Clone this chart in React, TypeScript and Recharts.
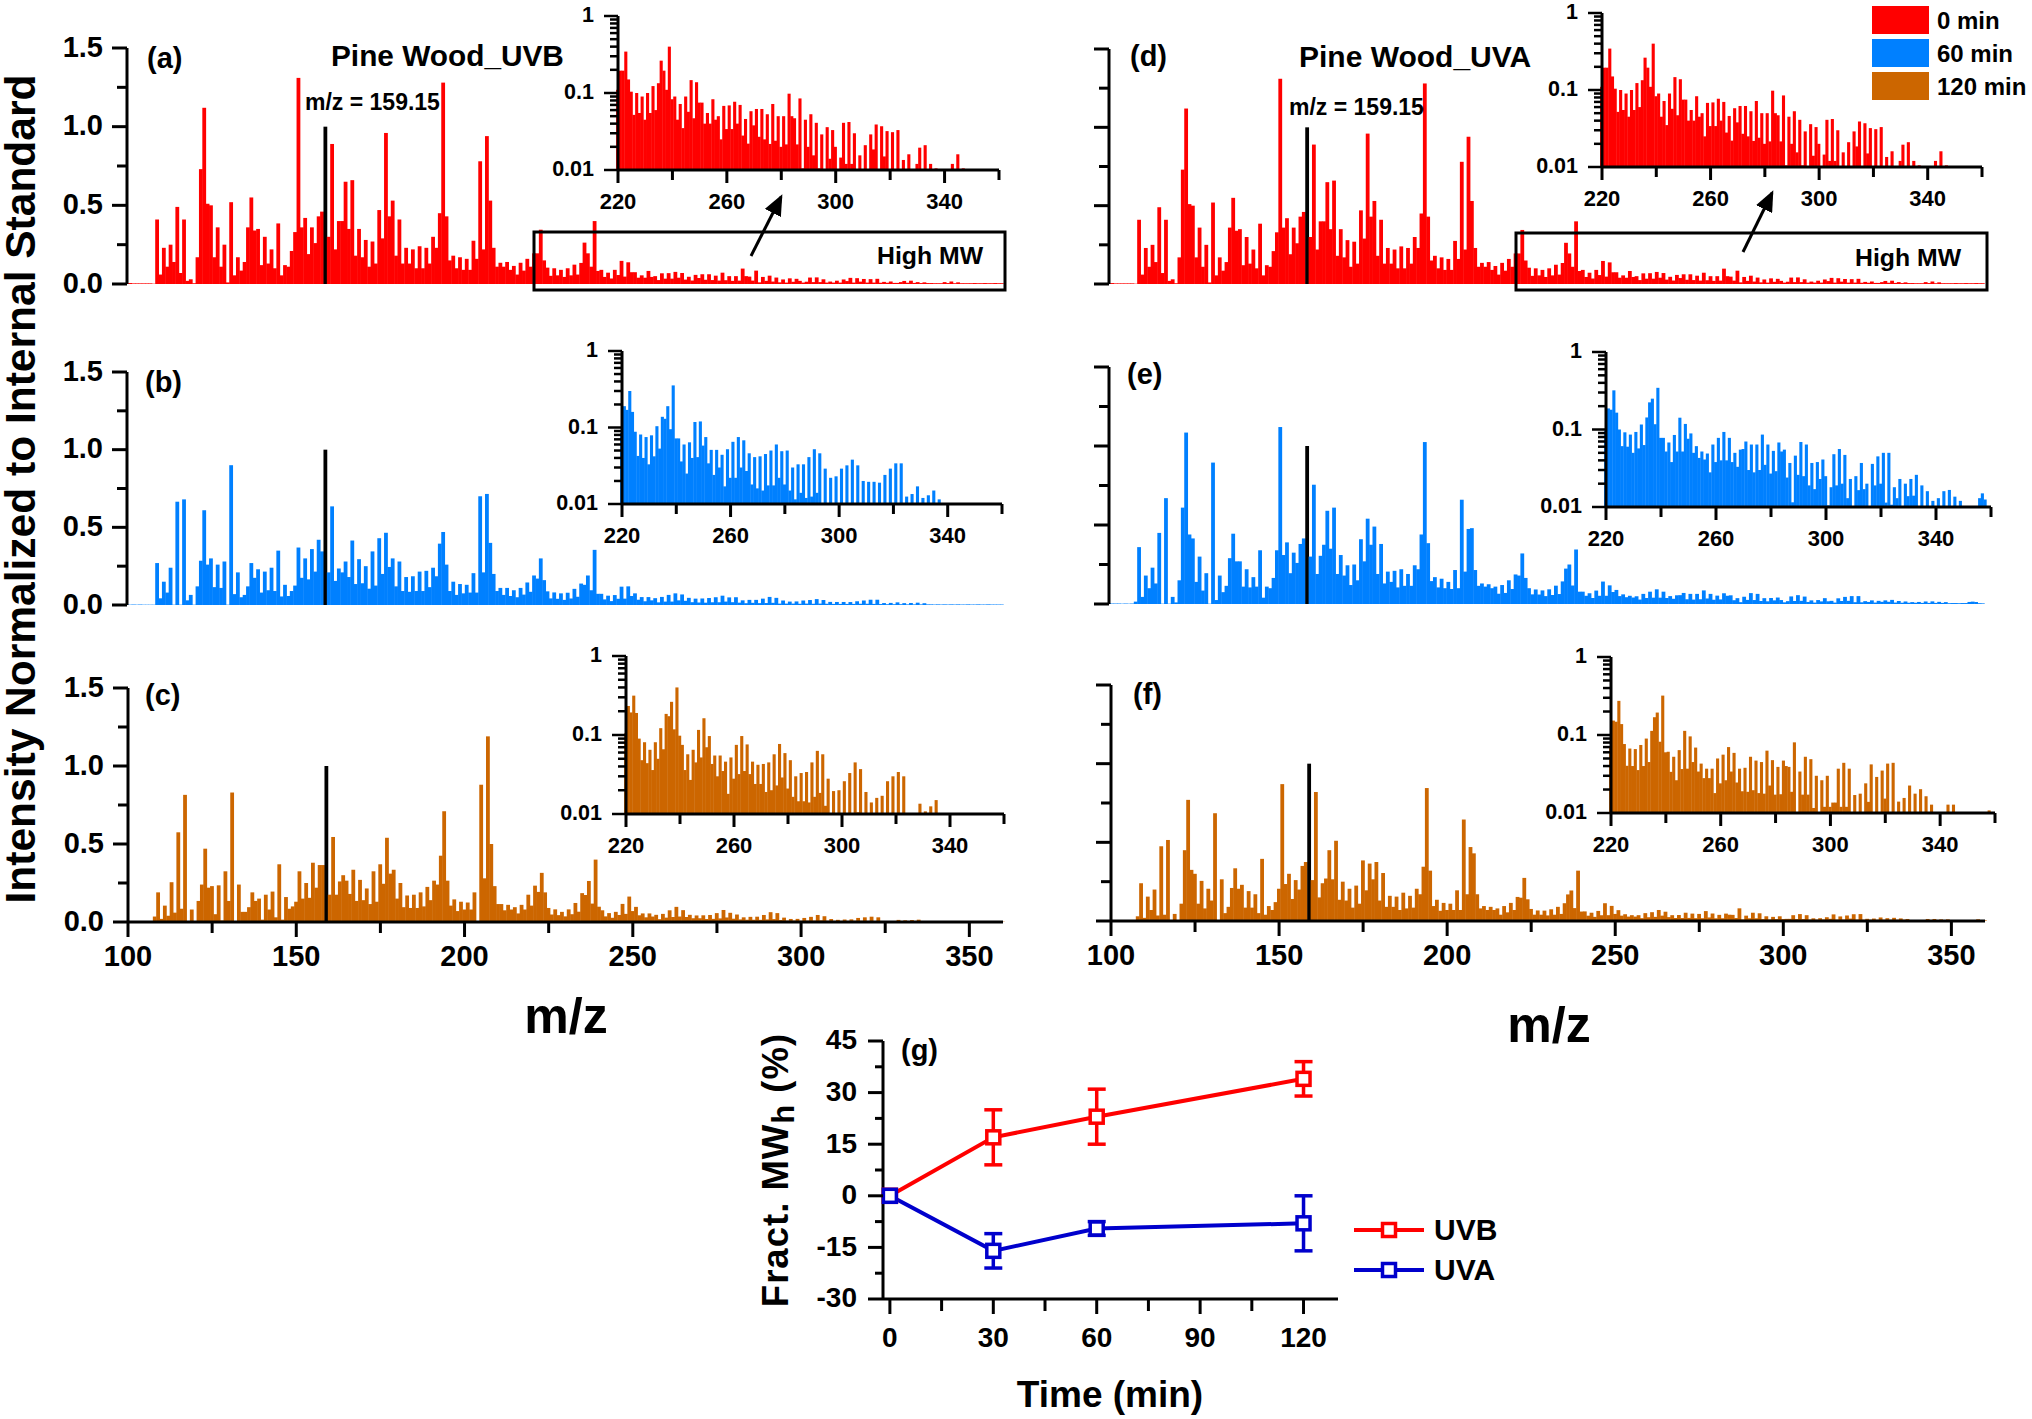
import { BarChart, Bar, XAxis, YAxis, LineChart, Line, ErrorBar } from 'recharts';

const FONT = '"Liberation Sans", Arial, sans-serif';
const RED = '#ff0000';
const BLUE = '#0080ff';
const BROWN = '#cc6600';
const UVA_BLUE = '#0000cc';

// intensity per unit m/z, ten values a line, starting at m/z 100 and running to 360
const zeroMin = [
  .004, .006, .004, .004, .004, .004, .004, .004, .002, .41,
  .06, .23, .11, .25, .14, .49, .07, .41, .02, .03,
  .005, .17, .73, 1.12, .51, .50, .17, .36, .11, .25,
  .01, .52, .055, .17, .085, .14, .36, .55, .34, .35,
  .12, .30, .13, .22, .10, .385, .055, .12, .11, .21,
  .33, 1.31, .36, .42, .19, .36, .26, .43, .46, 1.0,
  .30, .89, .22, .40, .40, .65, .35, .66, .18, .35,
  .17, .28, .11, .27, .13, .47, .29, .96, .43, .53,
  .18, .41, .13, .23, .13, .22, .10, .24, .10, .23,
  .13, .30, .23, .45, 1.28, .43, .15, .18, .10, .17,
  .09, .16, .09, .275, .16, .78, .22, .94, .53, .23,
  .11, .135, .11, .14, .09, .115, .06, .135, .085, .16,
  .11, .195, .195, .345, .15, .104, .052, .10, .055, .09,
  .045, .10, .055, .123, .06, .134, .263, .195, .11, .40,
  .083, .09, .045, .072, .035, .09, .057, .147, .047, .138,
  .075, .075, .04, .055, .04, .083, .045, .05, .025, .068,
  .034, .069, .034, .077, .04, .07, .028, .046, .022, .058,
  .038, .062, .027, .062, .025, .053, .0218, .072, .024, .05,
  .02, .05, .0215, .098, .05, .047, .0215, .085, .0105, .045,
  .02, .053, .0155, .041, .0105, .029, .009, .036, .014, .033,
  .02, .009, .0145, .041, .012, .042, .012, .03, .009, .0155,
  .009, .021, .009, .029, .0185, .039, .009, .037, .015, .032,
  .009, .031, .009, .033, .008, .0135, .008, .016, .007, .007,
  .012, .0195, .008, .021, .007, .012, .006, .0105, .006, .006,
  .005, .005, .005, .012, .006, .016, .005, .0105, .005, .005,
  .005, .005, .006, .005, .005, .006, .005, .005, .006, .005, .005,
];

const uvb60 = [
  .002, .002, .003, .002, .003, .002, .002, .002, .002, .27,
  .043, .15, .08, .24, .002, .665, .002, .68, .03, .065,
  .002, .12, .285, .61, .26, .30, .115, .26, .11, .28,
  .002, .90, .07, .21, .05, .065, .12, .27, .175, .23,
  .08, .215, .095, .24, .09, .35, .055, .13, .058, .09,
  .125, .37, .175, .30, .165, .36, .215, .42, .345, 1.0,
  .21, .635, .155, .235, .21, .28, .18, .415, .135, .295,
  .14, .25, .105, .345, .125, .43, .20, .465, .245, .30,
  .12, .28, .09, .18, .085, .185, .09, .215, .09, .22,
  .115, .24, .185, .395, .47, .26, .09, .15, .065, .135,
  .075, .13, .08, .205, .08, .70, .21, .715, .40, .20,
  .09, .11, .065, .11, .058, .095, .05, .11, .067, .145,
  .085, .19, .17, .30, .16, .088, .0425, .081, .04, .075,
  .033, .079, .042, .104, .053, .138, .13, .19, .095, .355,
  .072, .072, .036, .06, .025, .064, .04, .118, .041, .12,
  .058, .075, .034, .051, .024, .051, .03, .044, .017, .052,
  .022, .065, .022, .075, .03, .068, .027, .046, .018, .041,
  .016, .042, .015, .045, .0175, .05, .0175, .06, .022, .049,
  .018, .05, .015, .03, .0115, .033, .014, .033, .012, .041,
  .0125, .052, .014, .046, .009, .029, .009, .022, .009, .023,
  .008, .029, .009, .032, .008, .038, .009, .032, .008, .02,
  .007, .0195, .007, .0195, .007, .019, .007, .024, .008, .029,
  .008, .034, .007, .034, .006, .0125, .005, .0135, .005, .017,
  .005, .012, .004, .013, .004, .015, .004, .0115, .004, .004,
  .003, .004, .003, .004, .003, .004, .003, .004, .003, .003,
  .004, .003, .003, .004, .003, .003, .004, .003, .003, .003, .003,
];

const uvb120 = [
  0, 0, 0, 0, 0, 0, 0, 0, .035, .19,
  .02, .105, .04, .255, .06, .575, .085, .815, 0, .08,
  .005, .135, .24, .47, .22, .23, .05, .235, .01, .325,
  .135, .83, .005, .24, .065, .065, .095, .19, .135, .15,
  .015, .175, .08, .195, .03, .37, .015, .16, .085, .10,
  .13, .325, .15, .25, .155, .38, .22, .365, .365, 1.0,
  .175, .545, .175, .26, .30, .265, .18, .335, .135, .27,
  .14, .215, .115, .325, .13, .37, .245, .54, .31, .335,
  .15, .25, .095, .17, .09, .175, .09, .19, .10, .225,
  .14, .265, .24, .425, .71, .265, .105, .145, .07, .13,
  .08, .125, .08, .19, .002, .88, .28, 1.19, .50, .23,
  .115, .115, .075, .11, .08, .095, .055, .11, .08, .175,
  .105, .233, .193, .315, .19, .09, .048, .081, .044, .065,
  .036, .081, .05, .122, .066, .185, .173, .263, .118, .40,
  .098, .075, .036, .057, .027, .065, .045, .116, .052, .163,
  .07, .097, .043, .055, .03, .055, .035, .046, .018, .052,
  .028, .075, .032, .097, .035, .076, .032, .046, .024, .042,
  .024, .043, .019, .045, .02, .057, .023, .077, .029, .059,
  .021, .048, .0165, .03, .0145, .033, .0145, .034, .014, .045,
  .0165, .063, .0185, .057, .0127, .028, .009, .0195, .009, .02,
  .008, .026, .009, .033, .009, .045, .0105, .037, .008, .019,
  .007, .014, .007, .016, .007, .017, .008, .026, .008, .03,
  .007, .034, .006, .03, .005, .005, .004, .005, .004, .0135,
  .004, .0108, .004, .0125, .004, .015, .003, .003, .003, .003,
  .003, .003, .002, .003, .002, .003, .002, .003, .002, .002,
  .002, .002, .002, .002, .002, .002, .002, .002, .002, .002, .002,
];

const uva60 = [
  .006, .003, .003, .003, .002, .003, .002, .003, .015, .36,
  .045, .18, .10, .23, .13, .45, .002, .67, .002, .045,
  .01, .15, .61, 1.085, .44, .415, .14, .30, .085, .195,
  .002, .895, .025, .18, .075, .115, .29, .445, .27, .27,
  .11, .22, .105, .17, .11, .34, .04, .11, .10, .165,
  .34, 1.12, .31, .39, .195, .325, .26, .38, .415, 1.0,
  .30, .755, .19, .305, .375, .59, .35, .61, .19, .31,
  .18, .245, .12, .25, .15, .41, .27, .54, .375, .49,
  .19, .38, .13, .205, .14, .21, .105, .22, .115, .19,
  .115, .245, .22, .44, 1.025, .385, .145, .17, .105, .16,
  .10, .14, .095, .215, .10, .66, .205, .475, .48, .215,
  .115, .13, .11, .125, .10, .11, .065, .12, .07, .15,
  .095, .187, .18, .32, .165, .10, .061, .092, .06, .086,
  .05, .093, .057, .116, .063, .143, .224, .25, .117, .345,
  .078, .078, .052, .068, .038, .085, .052, .142, .052, .118,
  .076, .089, .05, .061, .043, .052, .041, .049, .028, .064,
  .038, .078, .04, .093, .04, .078, .038, .05, .033, .055,
  .056, .07, .03, .064, .028, .064, .03, .086, .035, .064,
  .027, .053, .029, .068, .052, .055, .024, .037, .0115, .046,
  .026, .069, .025, .064, .019, .037, .017, .038, .023, .041,
  .025, .0105, .018, .048, .019, .056, .02, .047, .013, .023,
  .009, .025, .0165, .037, .017, .02, .009, .036, .019, .045,
  .02, .05, .0114, .05, .0107, .018, .013, .023, .009, .02,
  .0138, .023, .014, .026, .009, .019, .008, .016, .008, .012,
  .008, .013, .007, .016, .007, .0166, .007, .0136, .007, .012,
  .005, .006, .006, .005, .006, .006, .013, .015, .0125, .005, .004,
];

const uva120 = [
  0, 0, 0, 0, 0, 0, 0, 0, .03, .24,
  .02, .155, .07, .20, .035, .475, .04, .515, 0, .045,
  0, .11, .45, .77, .325, .30, .11, .255, .08, .205,
  .13, .685, 0, .265, .05, .09, .21, .335, .205, .23,
  .085, .19, .085, .17, .05, .395, .04, .095, .07, .12,
  .205, .87, .235, .30, .14, .26, .20, .35, .375, 1.0,
  .26, .82, .15, .24, .27, .45, .265, .51, .135, .25,
  .13, .205, .085, .225, .11, .385, .195, .365, .265, .375,
  .13, .305, .09, .16, .09, .155, .07, .18, .08, .16,
  .085, .205, .17, .345, .845, .32, .095, .135, .065, .115,
  .07, .11, .07, .195, .07, .645, .17, .47, .43, .17,
  .08, .095, .07, .09, .07, .08, .04, .095, .055, .115,
  .07, .153, .148, .274, .138, .0766, .0403, .067, .04, .066,
  .0355, .0745, .04, .09, .045, .113, .169, .194, .082, .32,
  .06, .061, .0337, .0526, .0263, .064, .0366, .113, .037, .096,
  .045, .069, .034, .043, .028, .037, .028, .037, .018, .05,
  .024, .056, .0263, .07, .034, .059, .0246, .037, .019, .038,
  .0187, .0526, .0196, .047, .018, .045, .0177, .063, .0225, .0476,
  .0172, .039, .0174, .047, .04, .039, .0187, .0805, .0095, .034,
  .0172, .0526, .0172, .049, .0116, .03, .0095, .0263, .012, .03,
  .012, .0136, .0136, .037, .012, .044, .012, .037, .009, .017,
  .009, .0177, .0095, .024, .0139, .042, .009, .029, .009, .035,
  .0153, .043, .009, .044, .008, .014, .008, .0156, .008, .0225,
  .008, .0177, .008, .0202, .008, .0164, .008, .0128, .006, .006,
  .006, .005, .005, .0128, .005, .0128, .005, .0103, .005, .0103,
  .004, .004, .004, .004, .004, .004, .004, .004, .0108, .004, .004,
];

// fraction of high molecular weight, panel (g)
const times = [0, 30, 60, 120];
const uvbFract = [0, 17, 23, 34];
const uvbErr = [null, 8, 8, 5];
const uvaFract = [0, -16, -9.5, -8];
const uvaErr = [null, 5, 2, 8];

const mzTicks = [100, 125, 150, 175, 200, 225, 250, 275, 300, 325, 350];
const mzLabelled = [100, 150, 200, 250, 300, 350];
const intensityTicks = [0, 0.25, 0.5, 0.75, 1, 1.25, 1.5];
const intensityMajor = [0, 0.5, 1, 1.5];
const insetXTicks = [220, 240, 260, 280, 300, 320, 340, 360];
const insetXLabelled = [220, 260, 300, 340];
const insetYTicks = [.01, .02, .03, .04, .05, .06, .07, .08, .09, .1, .2, .3, .4, .5, .6, .7, .8, .9, 1];
const insetYLabelled = [.01, .1, 1];
const timeTicks = [0, 15, 30, 45, 60, 75, 90, 105, 120];
const timeLabelled = [0, 30, 60, 90, 120];
const fractTicks = [-30, -22.5, -15, -7.5, 0, 7.5, 15, 22.5, 30, 37.5, 45];
const fractLabelled = [-30, -15, 0, 15, 30, 45];

const toRows = (values: number[]) => values.map((v, i) => ({ mz: 100 + i, v }));

const xTick = (labelled: number[], long: number, short: number, size: number, dy: number, sw: number) => (p: any) => {
  const on = labelled.includes(p.payload.value);
  return (
    <g>
      <line x1={p.x} x2={p.x} y1={p.y} y2={p.y + (on ? long : short)} stroke="#000" strokeWidth={sw} />
      {on && (
        <text x={p.x} y={p.y + dy} textAnchor="middle" fontFamily={FONT} fontWeight="bold" fontSize={size} fill="#000">
          {p.payload.value}
        </text>
      )}
    </g>
  );
};

const yTick = (major: number[], long: number, short: number, size: number, gap: number, sw: number, fmt: (v: number) => string, showText: boolean) => (p: any) => {
  const on = major.includes(p.payload.value);
  return (
    <g>
      <line x1={p.x} x2={p.x - (on ? long : short)} y1={p.y} y2={p.y} stroke="#000" strokeWidth={sw} />
      {on && showText && (
        <text x={p.x - gap} y={p.y + size * 0.3} textAnchor="end" fontFamily={FONT} fontWeight="bold" fontSize={size} fill="#000">
          {fmt(p.payload.value)}
        </text>
      )}
    </g>
  );
};

// recharts squeezes the bars when they touch, so the width is set here around its own centre
const stick = (w: number) => (p: any) => (
  <rect
    x={p.x + p.width / 2 - w / 2}
    y={p.y}
    width={w}
    height={p.height}
    fill={p.payload.mz === 159 ? '#000' : p.fill}
  />
);

type Box = { left: number; top: number; right: number; bottom: number };

const Spectrum = ({ box, values, color, showX, showY }: { box: Box; values: number[]; color: string; showX?: boolean; showY?: boolean }) => {
  const rows = toRows(values);
  const w = box.right - box.left;
  const h = box.bottom - box.top;
  return (
    <div style={{ position: 'absolute', left: box.left - 90, top: box.top - 20 }}>
      <BarChart
        width={w + 110}
        height={h + 80}
        data={rows}
        margin={{ top: 20, right: 20, left: 0, bottom: showX ? 0 : 60 }}
      >
        <XAxis
          dataKey="mz"
          type="number"
          domain={[100, 360]}
          ticks={mzTicks}
          interval={0}
          hide={!showX}
          height={60}
          tickLine={false}
          tickSize={0}
          tickMargin={0}
          axisLine={{ stroke: '#000', strokeWidth: 3 }}
          tick={xTick(mzLabelled, 15, 11, 29, 44, 3)}
        />
        <YAxis
          type="number"
          width={90}
          domain={[0, 1.5]}
          ticks={intensityTicks}
          interval={0}
          tickLine={false}
          tickSize={0}
          tickMargin={0}
          axisLine={{ stroke: '#000', strokeWidth: 3 }}
          tick={yTick(intensityMajor, 15, 10, 29, 24, 3, (v) => v.toFixed(1), !!showY)}
        />
        <Bar dataKey="v" barSize={3} fill={color} shape={stick(3.8)} isAnimationActive={false} />
      </BarChart>
    </div>
  );
};

const Inset = ({ box, values, color }: { box: Box; values: number[]; color: string }) => {
  // the inset is the same spectrum above m/z 220 on a log axis, anything under 0.01 falls off it
  const rows = toRows(values).filter((r) => r.mz >= 220 && r.v >= 0.01);
  const w = box.right - box.left;
  const h = box.bottom - box.top;
  return (
    <div style={{ position: 'absolute', left: box.left - 70, top: box.top - 15 }}>
      <BarChart
        width={w + 90}
        height={h + 65}
        data={rows}
        margin={{ top: 15, right: 20, left: 0, bottom: 0 }}
      >
        <XAxis
          dataKey="mz"
          type="number"
          domain={[220, 360]}
          ticks={insetXTicks}
          interval={0}
          height={50}
          tickLine={false}
          tickSize={0}
          tickMargin={0}
          axisLine={{ stroke: '#000', strokeWidth: 3 }}
          tick={xTick(insetXLabelled, 13, 10, 22, 39, 3)}
        />
        <YAxis
          type="number"
          scale="log"
          width={70}
          domain={[0.01, 1]}
          allowDataOverflow
          ticks={insetYTicks}
          interval={0}
          tickLine={false}
          tickSize={0}
          tickMargin={0}
          axisLine={{ stroke: '#000', strokeWidth: 3 }}
          tick={yTick(insetYLabelled, 14, 8, 21.5, 24, 2.5, (v) => String(v), true)}
        />
        <Bar dataKey="v" barSize={2} fill={color} shape={stick(3.1)} isAnimationActive={false} />
      </BarChart>
    </div>
  );
};

const fractRows = times.map((t, i) => ({
  time: t,
  uvb: uvbFract[i],
  uvbErr: uvbErr[i],
  uva: uvaFract[i],
  uvaErr: uvaErr[i],
}));

const squareDot = (color: string) => (p: any) => (
  <rect key={p.index} x={p.cx - 6.5} y={p.cy - 6.5} width={13} height={13} fill="#fff" stroke={color} strokeWidth={3.5} />
);

const FractionChart = () => (
  <div style={{ position: 'absolute', left: 883 - 90, top: 1041 - 20 }}>
    <LineChart
      width={455 + 110}
      height={258 + 20 + 70}
      data={fractRows}
      margin={{ top: 20, right: 20, left: 0, bottom: 0 }}
    >
      <XAxis
        dataKey="time"
        type="number"
        domain={[-2, 130]}
        ticks={timeTicks}
        interval={0}
        height={70}
        tickLine={false}
        tickSize={0}
        tickMargin={0}
        axisLine={{ stroke: '#000', strokeWidth: 3 }}
        tick={xTick(timeLabelled, 15, 12, 28, 48, 3)}
      />
      <YAxis
        type="number"
        width={90}
        domain={[-30, 45]}
        ticks={fractTicks}
        interval={0}
        tickLine={false}
        tickSize={0}
        tickMargin={0}
        axisLine={{ stroke: '#000', strokeWidth: 3 }}
        tick={yTick(fractLabelled, 15, 8, 28, 26, 3, (v) => String(v), true)}
      />
      <Line dataKey="uvb" stroke={RED} strokeWidth={4} dot={squareDot(RED)} isAnimationActive={false}>
        <ErrorBar dataKey="uvbErr" direction="y" width={9} stroke={RED} strokeWidth={3.5} isAnimationActive={false} />
      </Line>
      <Line dataKey="uva" stroke={UVA_BLUE} strokeWidth={4} dot={squareDot(UVA_BLUE)} isAnimationActive={false}>
        <ErrorBar dataKey="uvaErr" direction="y" width={9} stroke={UVA_BLUE} strokeWidth={3.5} isAnimationActive={false} />
      </Line>
    </LineChart>
  </div>
);

const T = ({ x, y, size, children, anchor }: any) => (
  <text x={x} y={y} fontFamily={FONT} fontWeight="bold" fontSize={size} fill="#000" textAnchor={anchor || 'start'}>
    {children}
  </text>
);

const Annotations = () => (
  <svg width={2032} height={1419} style={{ position: 'absolute', left: 0, top: 0, pointerEvents: 'none' }}>
    <defs>
      <marker id="head" markerWidth="7" markerHeight="6" refX="6" refY="3" orient="auto">
        <path d="M0,0 L7,3 L0,6 Z" fill="#000" />
      </marker>
    </defs>

    <text x={0} y={0} transform="translate(35,489) rotate(-90)" textAnchor="middle" fontFamily={FONT} fontWeight="bold" fontSize={42.5} fill="#000">
      Intensity Normalized to Internal Standard
    </text>
    <T x={566} y={1033} size={50} anchor="middle">m/z</T>
    <T x={1549} y={1042} size={50} anchor="middle">m/z</T>

    <T x={147} y={68} size={29}>(a)</T>
    <T x={145} y={392} size={29}>(b)</T>
    <T x={145} y={705} size={29}>(c)</T>
    <T x={1130} y={66} size={29}>(d)</T>
    <T x={1127} y={384} size={29}>(e)</T>
    <T x={1133} y={704} size={29}>(f)</T>
    <T x={901} y={1060} size={29}>(g)</T>

    <T x={331} y={66} size={29.8}>Pine Wood_UVB</T>
    <T x={1299} y={67} size={30}>Pine Wood_UVA</T>
    <T x={305} y={110} size={23}>m/z = 159.15</T>
    <T x={1289} y={115} size={23}>m/z = 159.15</T>

    <rect x={534} y={232} width={471} height={58} fill="none" stroke="#000" strokeWidth={3} />
    <rect x={1516} y={233} width={471} height={57} fill="none" stroke="#000" strokeWidth={3} />
    <T x={877} y={264} size={24.8}>High MW</T>
    <T x={1855} y={266} size={24.8}>High MW</T>
    <line x1={751} y1={256} x2={781} y2={197} stroke="#000" strokeWidth={3} markerEnd="url(#head)" />
    <line x1={1743} y1={252} x2={1772} y2={193} stroke="#000" strokeWidth={3} markerEnd="url(#head)" />

    <rect x={1872} y={6} width={57} height={28} fill={RED} />
    <rect x={1872} y={39} width={57} height={28} fill={BLUE} />
    <rect x={1872} y={72} width={57} height={28} fill={BROWN} />
    <T x={1937} y={29} size={24}>0 min</T>
    <T x={1937} y={62} size={24}>60 min</T>
    <T x={1937} y={95} size={24}>120 min</T>

    <text x={0} y={0} transform="translate(788,1170) rotate(-90)" textAnchor="middle" fontFamily={FONT} fontWeight="bold" fontSize={36.5} letterSpacing={1} fill="#000">
      Fract. MW<tspan fontSize={31} dy={6}>h</tspan><tspan dy={-6}> (%)</tspan>
    </text>
    <T x={1110} y={1407} size={37} anchor="middle">Time (min)</T>

    <line x1={1354} x2={1424} y1={1230} y2={1230} stroke={RED} strokeWidth={4} />
    <rect x={1382.5} y={1223.5} width={13} height={13} fill="#fff" stroke={RED} strokeWidth={3.5} />
    <line x1={1354} x2={1424} y1={1270} y2={1270} stroke={UVA_BLUE} strokeWidth={4} />
    <rect x={1382.5} y={1263.5} width={13} height={13} fill="#fff" stroke={UVA_BLUE} strokeWidth={3.5} />
    <T x={1434} y={1240} size={30}>UVB</T>
    <T x={1434} y={1280} size={30}>UVA</T>
  </svg>
);

export default function App() {
  return (
    <div style={{ position: 'absolute', left: 0, top: 0, width: 2032, height: 1419, background: '#fff', overflow: 'hidden' }}>
      <Spectrum box={{ left: 127, top: 48, right: 1002, bottom: 284 }} values={zeroMin} color={RED} showY />
      <Spectrum box={{ left: 127, top: 372, right: 1002, bottom: 605 }} values={uvb60} color={BLUE} showY />
      <Spectrum box={{ left: 128, top: 688, right: 1003, bottom: 922 }} values={uvb120} color={BROWN} showX showY />
      <Spectrum box={{ left: 1109, top: 49, right: 1983, bottom: 284 }} values={zeroMin} color={RED} />
      <Spectrum box={{ left: 1109, top: 367, right: 1983, bottom: 604 }} values={uva60} color={BLUE} />
      <Spectrum box={{ left: 1111, top: 685, right: 1985, bottom: 921 }} values={uva120} color={BROWN} showX />

      <Inset box={{ left: 618, top: 16, right: 999, bottom: 170 }} values={zeroMin} color={RED} />
      <Inset box={{ left: 622, top: 351, right: 1002, bottom: 504 }} values={uvb60} color={BLUE} />
      <Inset box={{ left: 626, top: 656, right: 1004, bottom: 814 }} values={uvb120} color={BROWN} />
      <Inset box={{ left: 1602, top: 13, right: 1982, bottom: 167 }} values={zeroMin} color={RED} />
      <Inset box={{ left: 1606, top: 352, right: 1991, bottom: 507 }} values={uva60} color={BLUE} />
      <Inset box={{ left: 1611, top: 657, right: 1995, bottom: 813 }} values={uva120} color={BROWN} />

      <FractionChart />
      <Annotations />
    </div>
  );
}
